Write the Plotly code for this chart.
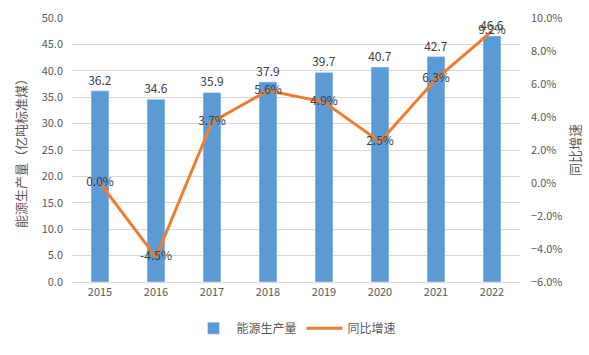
import plotly.graph_objects as go

years = ["2015", "2016", "2017", "2018", "2019", "2020", "2021", "2022"]
production = [36.2, 34.6, 35.9, 37.9, 39.7, 40.7, 42.7, 46.6]
growth = [0.0, -4.5, 3.7, 5.6, 4.9, 2.5, 6.3, 9.2]

FONT = "Noto Sans CJK SC, Open Sans, sans-serif"
TICK = "#595959"

fig = go.Figure()
fig.add_trace(go.Bar(
    x=years, y=production, name="能源生产量",
    marker=dict(color="#5B9BD5"), width=0.32,
    text=[f"{v:.1f}" for v in production], textposition="outside",
    constraintext="none",
    textfont=dict(size=12, color="#404040", family=FONT),
    cliponaxis=False,
))
fig.add_trace(go.Scatter(
    x=years, y=growth, name="同比增速", yaxis="y2",
    mode="lines+text", line=dict(color="#ED7D31", width=3),
    text=[f"{v:.1f}%" for v in growth], textposition="middle center",
    textfont=dict(size=12, color="#404040", family=FONT),
    cliponaxis=False,
))

fig.update_layout(
    width=589, height=355,
    margin=dict(l=72, r=69, t=18, b=73, autoexpand=False),
    paper_bgcolor="white", plot_bgcolor="white",
    font=dict(family=FONT, color=TICK, size=11),
    showlegend=True,
    legend=dict(orientation="h", x=0.5, xanchor="center", y=-0.12, yanchor="top",
                font=dict(size=12, color=TICK), traceorder="normal", itemwidth=36),
    xaxis=dict(type="category", showgrid=False, showline=True, linecolor="#D9D9D9",
               ticks="", tickfont=dict(size=11, color=TICK)),
    yaxis=dict(range=[0, 50], dtick=5, tickformat=".1f", gridcolor="#D9D9D9",
               zeroline=False, showline=False, ticks="", ticklabelstandoff=8,
               tickfont=dict(size=11, color=TICK),
               title=dict(text="能源生产量（亿吨标准煤）", font=dict(size=13, color=TICK), standoff=12)),
    yaxis2=dict(range=[-6, 10], dtick=2, tickformat=".1f", ticksuffix="%",
                overlaying="y", side="right", showgrid=False, zeroline=False, ticks="",
                ticklabelstandoff=10,
                tickfont=dict(size=11, color=TICK),
                title=dict(text="同比增速", font=dict(size=13, color=TICK), standoff=9)),
)

fig.write_html("out.html", config={"displayModeBar": False},
               post_script="document.body.style.margin='0';")
